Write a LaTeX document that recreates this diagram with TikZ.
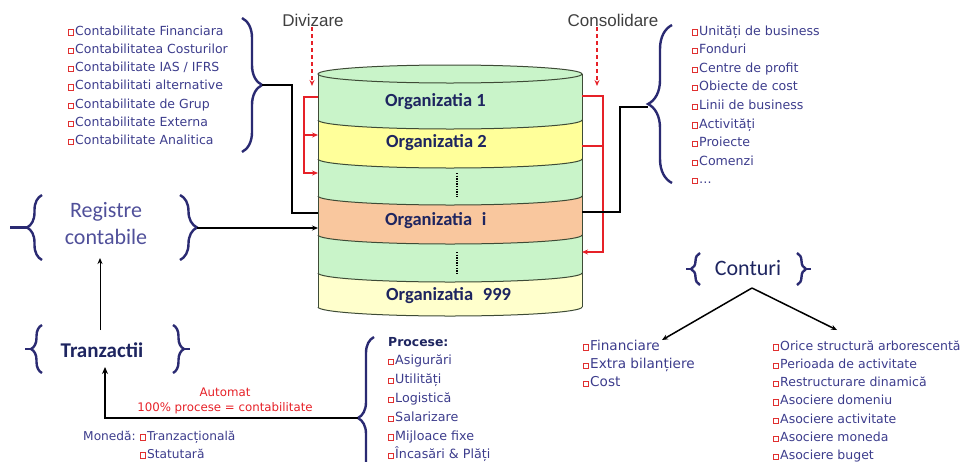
\documentclass[tikz,border=0pt]{standalone}
\usepackage{fontspec}
\setmainfont{DejaVu Sans}
\newfontfamily\carl{Carlito}
\newfontfamily\arl{Liberation Sans}
\usetikzlibrary{arrows.meta,decorations.pathreplacing,calc}
\definecolor{itemc}{HTML}{3C3C8C}
\definecolor{bracec}{HTML}{2A2A72}
\definecolor{orgc}{HTML}{1E2560}
\definecolor{redc}{HTML}{E62128}
\definecolor{bulc}{HTML}{E03030}
\definecolor{bandg}{HTML}{C9F4C9}
\definecolor{bandy}{HTML}{FFFF9A}
\definecolor{bando}{HTML}{F9C79E}
\definecolor{bandl}{HTML}{FFFFCC}
\definecolor{cylc}{HTML}{3E4B36}
\definecolor{labc}{HTML}{404040}
\definecolor{regc}{HTML}{50509A}
\newcommand\bx{\textcolor{bulc}{\fboxsep=0pt\fboxrule=0.6pt\raisebox{0.4pt}{\fbox{\rule{0pt}{4.6pt}\rule{4.6pt}{0pt}}}}\hspace{1.2pt}}
\newcommand\bandfill[3]{%
  \fill[#3] (318,#1) -- (318,#2) .. controls (318,#2+5) and (377,#2+9) .. (450,#2+9)
    .. controls (523,#2+9) and (582,#2+5) .. (582,#2) -- (582,#1)
    .. controls (582,#1+5) and (523,#1+9) .. (450,#1+9)
    .. controls (377,#1+9) and (318,#1+5) .. (318,#1) -- cycle;}
\newcommand\bandarc[1]{%
  \draw[cylline] (318,#1) .. controls (318,#1+5) and (377,#1+9) .. (450,#1+9)
    .. controls (523,#1+9) and (582,#1+5) .. (582,#1);}
\tikzset{
  item/.style={anchor=west,inner sep=0pt,font=\fontsize{#1}{14}\selectfont,text=itemc,text height=8.5pt,text depth=2.5pt},
  item/.default=12.7,
  orgt/.style={font=\carl\bfseries\fontsize{18.5}{20}\selectfont,text=orgc,inner sep=0pt,anchor=west},
  brc/.style={draw=bracec,line width=2.4pt,decorate,decoration={brace,amplitude=#1}},
  tick/.style={draw=bracec,line width=2.4pt},
  cylline/.style={draw=cylc,line width=1pt},
  redl/.style={draw=redc,line width=1.5pt},
  reddash/.style={redl,dash pattern=on 4pt off 3pt},
  blk/.style={draw=black,line width=1.5pt},
  tipa/.style={-{Stealth[length=6pt,width=5pt]}},
  lab/.style={font=\arl\fontsize{17}{19}\selectfont,text=labc,inner sep=1pt},
  big/.style={font=\carl\fontsize{22}{27}\selectfont,text=regc,inner sep=0pt,align=center}
}
\begin{document}
\begin{tikzpicture}[x=1pt,y=-1pt]
\useasboundingbox (0,0) rectangle (965,461);
\clip (0,0) rectangle (965,461);
% cylinder
\bandfill{74}{120}{bandg}
\bandfill{120}{159}{bandy}
\bandfill{159}{196}{bandg}
\bandfill{196}{235}{bando}
\bandfill{235}{273}{bandg}
\bandfill{273}{307}{bandl}
\bandarc{120}\bandarc{159}\bandarc{196}\bandarc{235}\bandarc{273}\bandarc{307}
\draw[cylline] (318,74) -- (318,307);
\draw[cylline] (582,74) -- (582,307);
\filldraw[fill=bandg,cylline] (450,74) ellipse [x radius=132pt,y radius=9pt];
\node[orgt] (o1) at (385,102) {Organizatia 1};
\node[orgt] (o2) at (386,143) {Organizatia 2};
\node[orgt] (oi) at (385,221) {Organizatia\hspace{0.3em} i};
\node[orgt] (o999) at (386,296) {Organizatia\hspace{0.3em} 999};
\draw[black,line width=1.2pt,dash pattern=on 1.3pt off 1.3pt] (457,173) -- (457,197);
\draw[black,line width=1.2pt,dash pattern=on 1.3pt off 1.3pt] (457,252) -- (457,273);
% labels top
\node[lab] (dv) at (313,20) {Divizare};
\node[lab] (cs) at (613,20) {Consolidare};
\coordinate (dvend) at (312,86);
\coordinate (csend) at (597,86);
\draw[reddash,tipa] (dv.south -| dvend) -- (dvend);
\draw[reddash,tipa] (cs.south -| csend) -- (csend);
% red brackets
\draw[redl,tipa] (318,97) -- (304,97) -- (304,173) -- (318,173);
\draw[redl,tipa] (304,135) -- (318,135);
\draw[redl,tipa] (582,96) -- (603,96) -- (603,252) -- (582,252);
\draw[redl] (582,146) -- (603,146);
% left list
\foreach \t [count=\i] in {Contabilitate Financiara,Contabilitatea Costurilor,Contabilitate IAS / IFRS,Contabilitati alternative,Contabilitate de Grup,Contabilitate Externa,Contabilitate Analitica}
  \node[item=12.5] (la\i) at (68,{32+18.3*(\i-1)}) {\bx\t};
\draw[brc=20] (242,18) -- (242,152);
\coordinate (latip) at (262,85);
\draw[blk] (latip) -- (292,85) -- (292,213) -- (318,213);
% right list
\foreach \t [count=\i] in {Unități de business,Fonduri,Centre de profit,Obiecte de cost,Linii de business,Activități,Proiecte,Comenzi,\dots}
  \node[item=12.6] (ra\i) at (692,{32+18.6*(\i-1)}) {\bx\t};
\draw[brc=24] (672,183) -- (672,25);
\coordinate (ratip) at (648,107);
\draw[blk] (582,212) -- (620,212) -- (620,107) -- (ratip);
% Registre contabile
\node[big] (reg) at (106,224) {Registre\\contabile};
\draw[brc=15] (42,260) -- (42,195);
\draw[tick] (27,227.5) -- (10,227.5);
\draw[brc=17] (180,195) -- (180,260);
\coordinate (regtip) at (197,228);
\draw[blk,tipa] (regtip) -- (318,228);
% Tranzactii
\node[font=\carl\bfseries\fontsize{21}{24}\selectfont,text=orgc,inner sep=0pt] (tr) at (102,350) {Tranzactii};
\draw[brc=11] (42,373) -- (42,325);
\draw[tick] (31,349) -- (25,349);
\draw[brc=11] (173,325) -- (173,373);
\draw[tick] (184,349) -- (190,349);
\draw[black,line width=1pt,tipa] (100,330) -- (100,258);
% Procese
\draw[brc=16] (374,499) -- (374,337);
\coordinate (prtip) at (358,418);
\draw[black,line width=2.4pt,-{Stealth[length=7pt,width=6pt]}] (prtip) -- (105,418) -- (105,367);
\node[font=\fontsize{11.8}{14.5}\selectfont,text=redc,align=center,inner sep=0pt] (aut) at (225,401) {Automat\\100\% procese = contabilitate};
\node[item=12.2,anchor=east] (mon) at (136,437) {Monedă:};
\node[item=12.2] (m1) at (140,437) {\bx Tranzacțională};
\node[item=12.2] (m2) at (140,455) {\bx Statutară};
\node[item,font=\bfseries\fontsize{12.4}{14}\selectfont,text=orgc] (pr0) at (388,343) {Procese:};
\foreach \t [count=\i] in {Asigurări,Utilități,Logistică,Salarizare,Mijloace fixe,Încasări \& Plăți}
  \node[item=12.7] (pr\i) at (388,{343+18.8*\i}) {\bx\t};
% Conturi
\node[font=\carl\fontsize{22}{24}\selectfont,text=orgc,inner sep=0pt] (ct) at (748,268) {Conturi};
\draw[brc=9] (700,285) -- (700,253);
\draw[tick] (691,269) -- (686,269);
\draw[brc=9] (797,253) -- (797,285);
\draw[tick] (806,269) -- (811,269);
\coordinate (ctb) at (752,288);
\draw[blk,tipa] (ctb) -- (662,340);
\draw[blk,tipa] (ctb) -- (837,330);
\foreach \t [count=\i] in {Financiare,Extra bilanțiere,Cost}
  \node[item=13.6] (cl\i) at (583,{347+18.2*(\i-1)}) {\bx\t};
\foreach \t [count=\i] in {Orice structură arborescentă,Perioada de activitate,Restructurare dinamică,Asociere domeniu,Asociere activitate,Asociere moneda,Asociere buget}
  \node[item=12.5] (cr\i) at (773,{347+18.3*(\i-1)}) {\bx\t};
\end{tikzpicture}
\end{document}
